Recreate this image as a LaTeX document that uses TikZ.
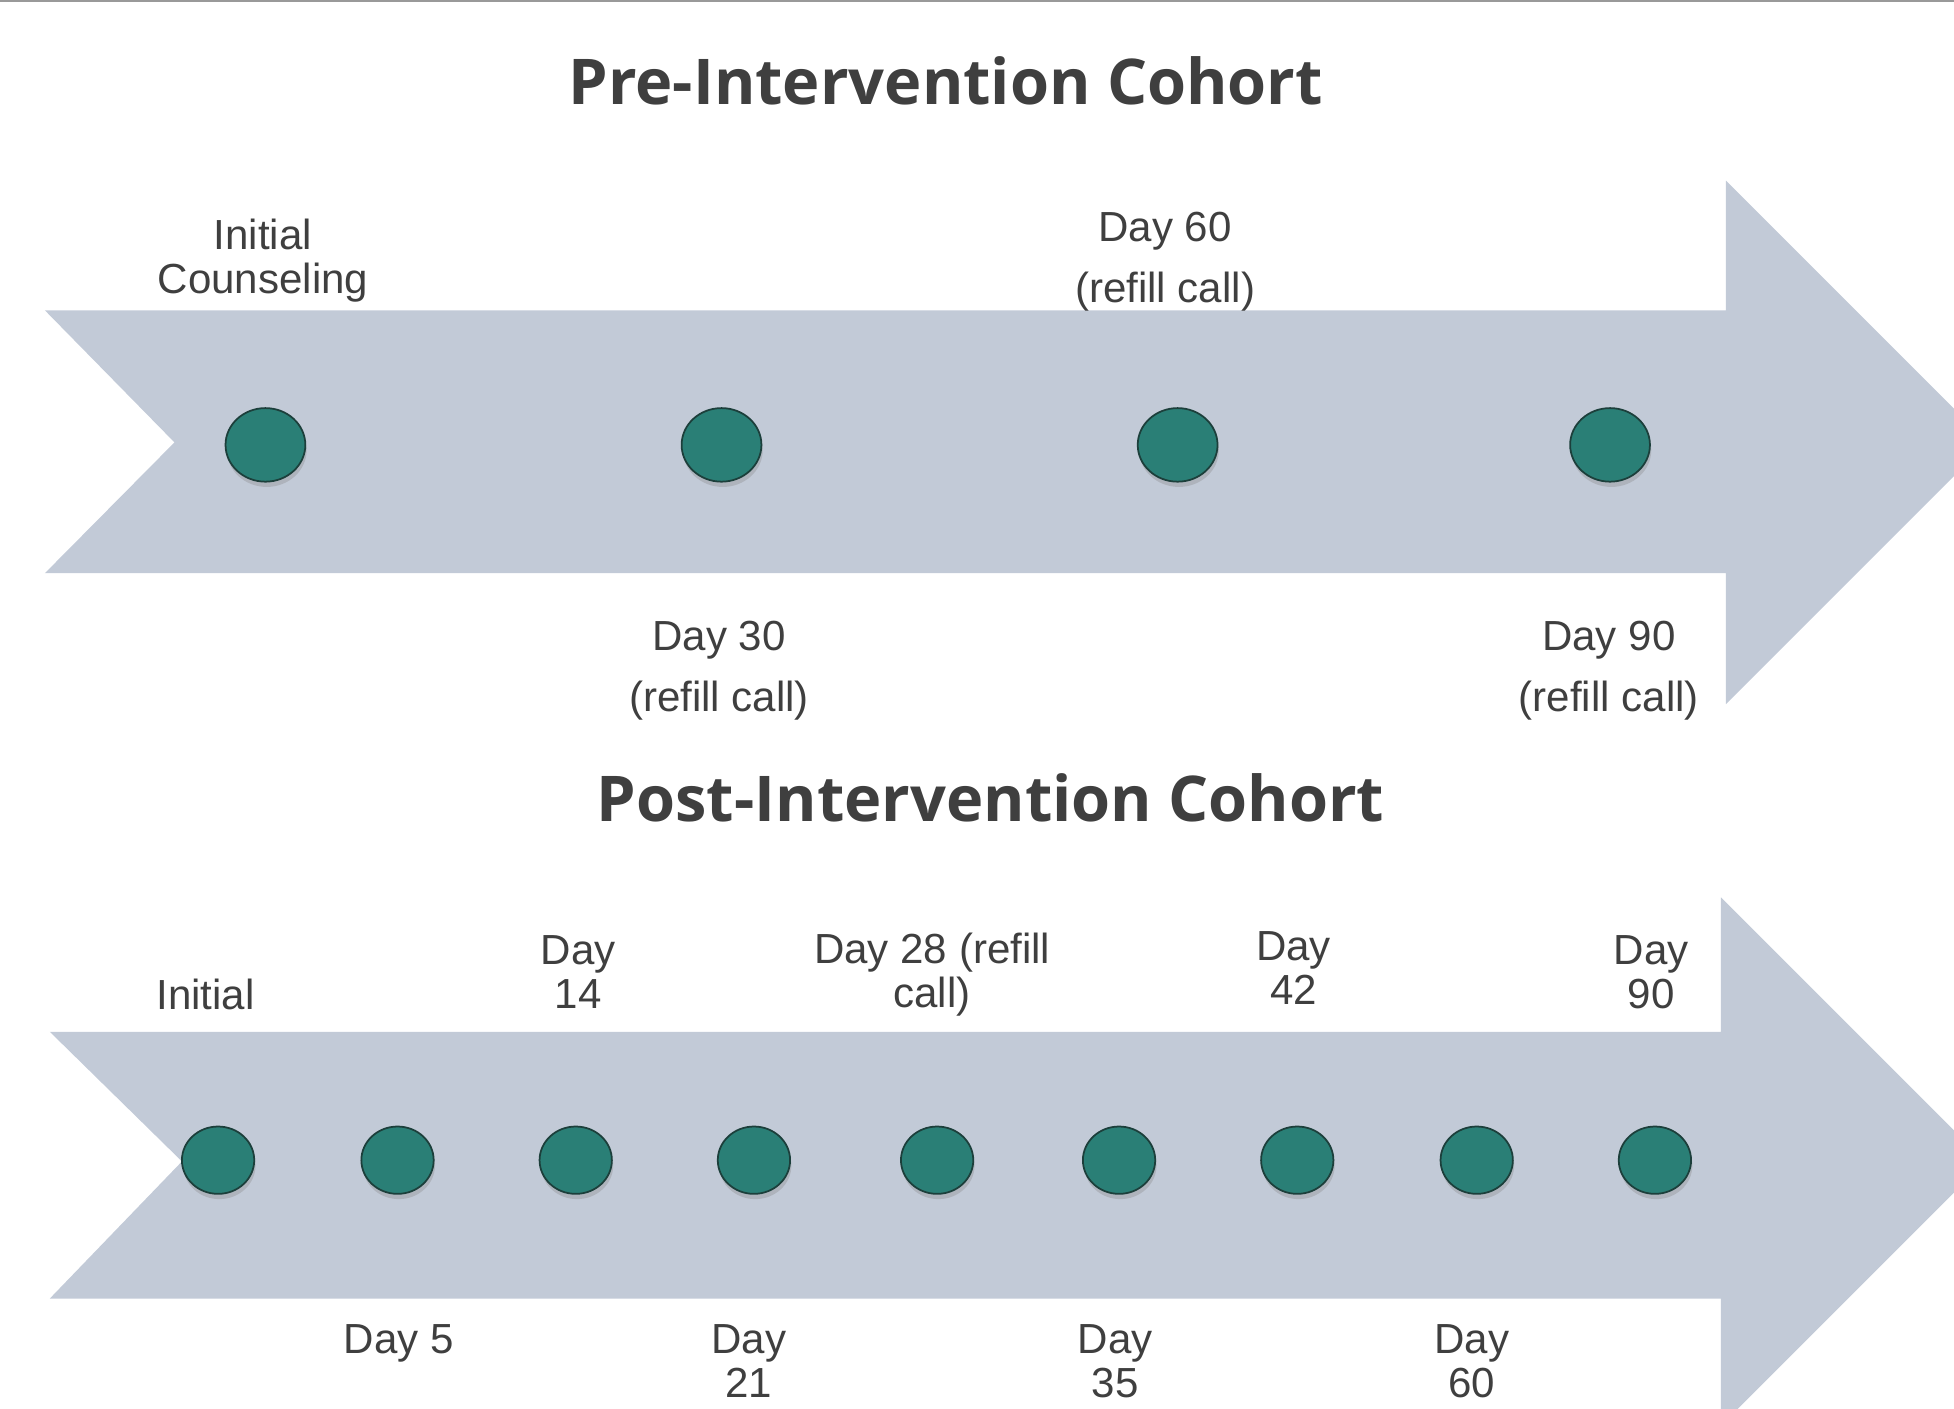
\documentclass[tikz,border=0pt]{standalone}
\usepackage{fontspec}
\setmainfont{Liberation Sans}
\newfontfamily\titlefont{Open Sans}
\usetikzlibrary{shapes.geometric,shadows}
\definecolor{shaft}{HTML}{C2CAD7}
\definecolor{dotfill}{HTML}{2A7F76}
\definecolor{dotline}{HTML}{1C3F3B}
\definecolor{ink}{HTML}{3F3F3F}
\tikzset{
  tick/.style={ellipse,draw=dotline,fill=dotfill,inner sep=0pt,
    drop shadow={shadow xshift=0.3pt,shadow yshift=-1.2pt,opacity=0.3}},
  bigtick/.style={tick,minimum width=6.4mm,minimum height=5.9mm},
  smalltick/.style={tick,minimum width=5.8mm,minimum height=5.4mm},
  lbl/.style={text=ink,align=center,inner sep=0pt,font=\fontsize{9.6}{10}\selectfont},
  widelbl/.style={lbl,font=\fontsize{9.6}{13.9}\selectfont},
  heading/.style={text=ink,inner sep=0pt,font=\titlefont\bfseries\fontsize{14.4}{17}\selectfont}
}
\begin{document}
\begin{tikzpicture}[x=0.01cm,y=-0.01cm]
  \useasboundingbox (0,0) rectangle (1568,1130);
  \clip (0,0) rectangle (1568,1130);
  \draw[gray!80,line width=0.8pt] (0,0) -- (1568,0);

  % pre-intervention
  \node[heading] (pretitle) at (759,65) {Pre-Intervention Cohort};
  \fill[shaft] (36,249) -- (1385,249) -- (1385,145) -- (1595,355) -- (1385,565)
    -- (1385,460) -- (36,460) -- (140,355) -- cycle;
  \foreach \x/\n in {213/init,579/d30,945/d60,1292/d90}
    \node[bigtick] (pre\n) at (\x,357) {};
  \node[lbl] (preinitlbl) at (211,209) {Initial\\Counseling};
  \node[widelbl] (pred60lbl) at (935,210) {Day 60\\(refill call)};
  \node[widelbl] (pred30lbl) at (577,538) {Day 30\\(refill call)};
  \node[widelbl] (pred90lbl) at (1291,538) {Day 90\\(refill call)};

  % post-intervention
  \node[heading] (posttitle) at (795,640) {Post-Intervention Cohort};
  \fill[shaft] (40,828) -- (1381,828) -- (1381,720) -- (1593,932) -- (1381,1144)
    -- (1381,1042) -- (40,1042) -- (146,932) -- cycle;
  \foreach \x/\n in {175/init,319/d5,462/d14,605/d21,752/d28,898/d35,1041/d42,1185/d60,1328/d90}
    \node[smalltick] (post\n) at (\x,931) {};
  \node[lbl] (postinitlbl) at (165,798) {Initial};
  \node[lbl] (postd14lbl) at (464,780) {Day\\14};
  \node[lbl] (postd28lbl) at (748,782) {Day 28 (refill\\call)};
  \node[lbl] (postd42lbl) at (1038,777) {Day\\42};
  \node[lbl] (postd90lbl) at (1325,780) {Day\\90};
  \node[lbl] (postd5lbl) at (320,1078) {Day 5};
  \node[lbl] (postd21lbl) at (601,1092) {Day\\21};
  \node[lbl] (postd35lbl) at (895,1092) {Day\\35};
  \node[lbl] (postd60lbl) at (1181,1092) {Day\\60};
\end{tikzpicture}
\end{document}
